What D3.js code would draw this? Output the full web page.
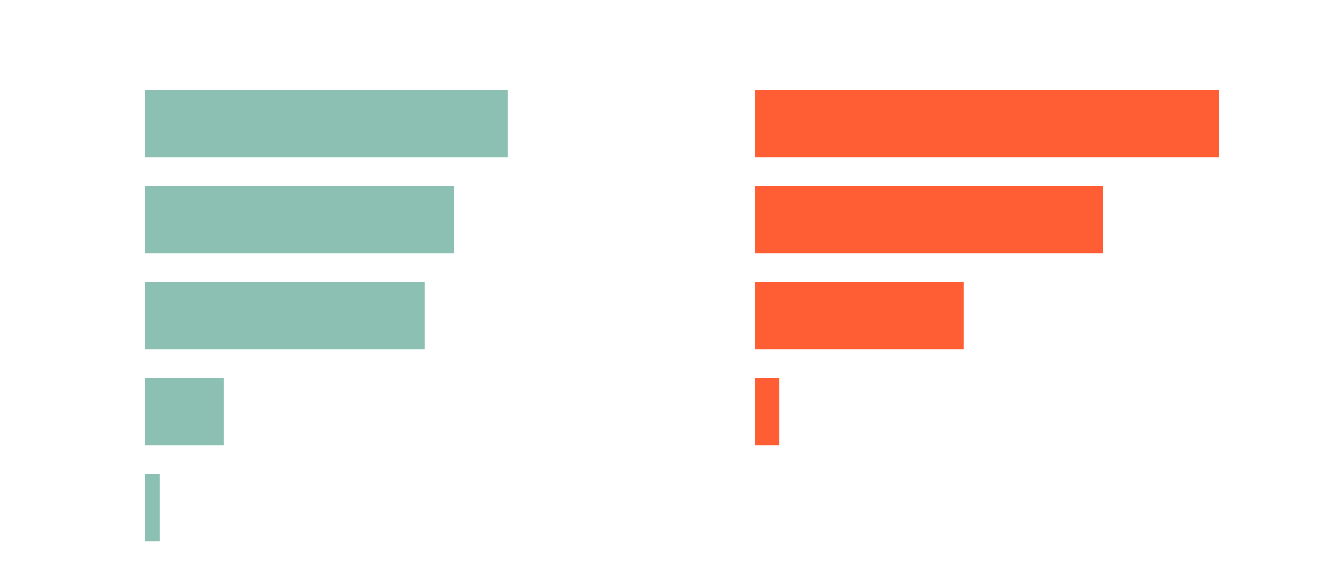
<!DOCTYPE html>
<html>
<head>
<meta charset="utf-8">
<script src="https://cdn.jsdelivr.net/npm/d3@7"></script>
<style>
  body { margin: 0; background: #fff; }
</style>
</head>
<body>
<div id="chart"></div>
<script>
// datos (las etiquetas no se ven, son blancas)
const categories = ["1", "2", "3", "4", "5"];
const leftValues = [78.2, 66.6, 60.3, 17.0, 3.2];
const rightValues = [100, 75, 45, 5.2, 0];

const width = 1344, height = 576;
const svg = d3.select("#chart").append("svg")
    .attr("width", width)
    .attr("height", height);

const y = d3.scaleBand()
    .domain(categories)
    .range([75.6, 555.6])
    .paddingInner(0.3)
    .paddingOuter(0.15);

const x = d3.scaleLinear()
    .domain([0, 100])
    .range([0, 464]);

const panels = [
    { left: 145, values: leftValues, color: "#8cc0b2" },
    { left: 755, values: rightValues, color: "#ff5e35" },
];

panels.forEach(p => {
    const g = svg.append("g").attr("transform", `translate(${p.left},0)`);
    g.selectAll("rect")
        .data(p.values)
        .enter().append("rect")
        .attr("x", 0)
        .attr("y", (d, i) => y(categories[i]))
        .attr("width", d => x(d))
        .attr("height", y.bandwidth())
        .attr("fill", p.color);
});
</script>
</body>
</html>
